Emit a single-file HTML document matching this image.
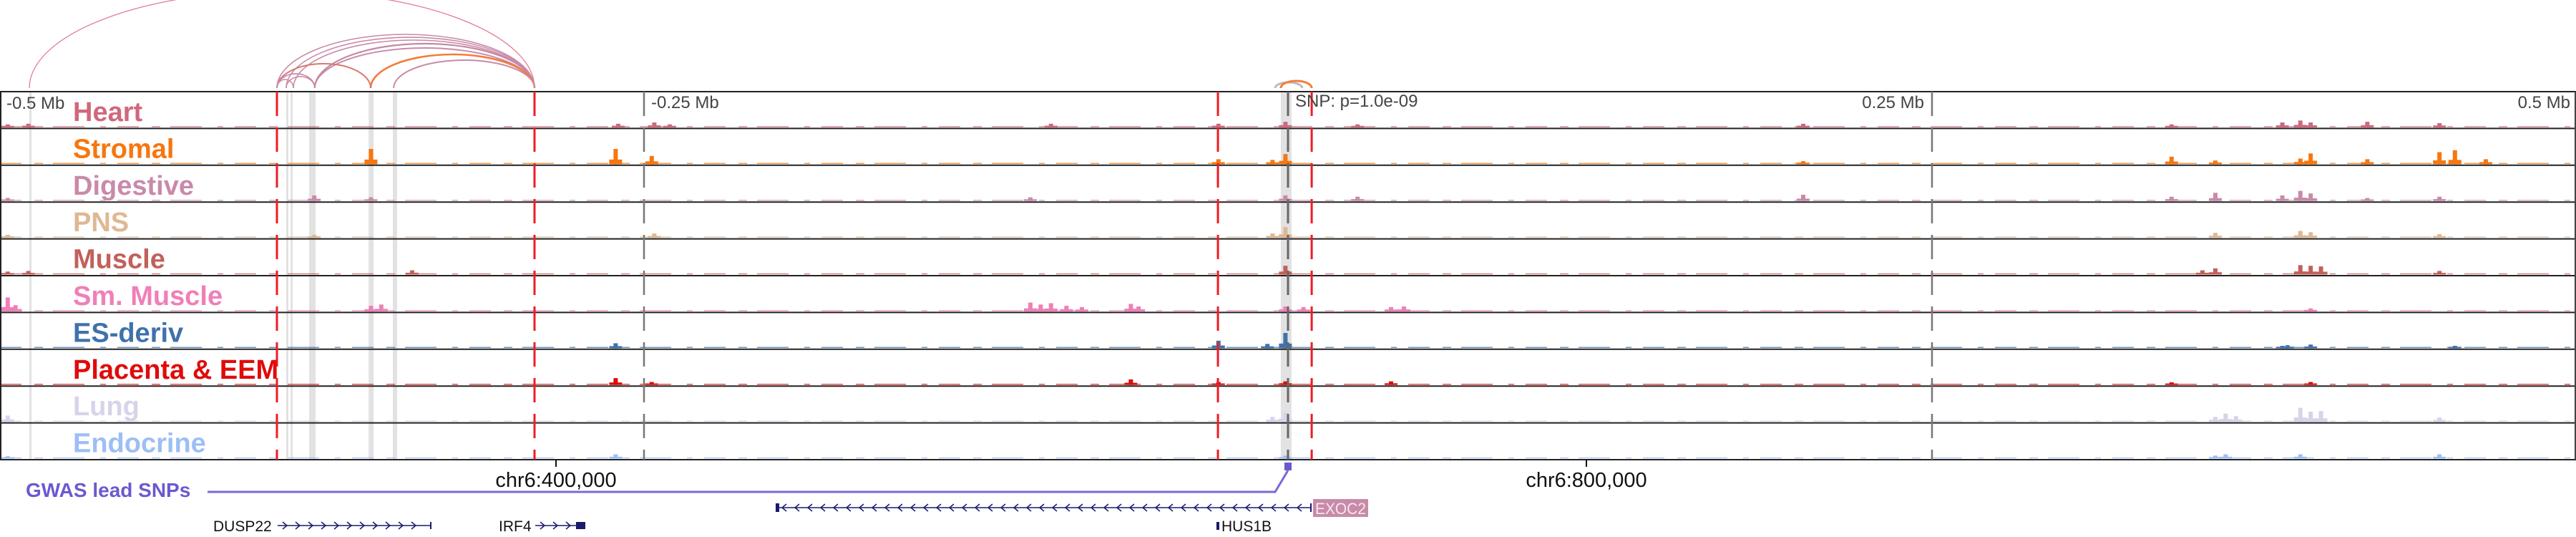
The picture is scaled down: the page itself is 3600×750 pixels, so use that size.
<!DOCTYPE html>
<html><head><meta charset="utf-8">
<style>
html,body{margin:0;padding:0;background:#fff;}
svg{display:block;font-family:"Liberation Sans",sans-serif;}
</style></head>
<body>
<svg id="chart" width="3600" height="750" viewBox="0 0 3600 750" xmlns="http://www.w3.org/2000/svg">
<g id="bands"></g>
<g id="arcs"></g>
<g id="signals"></g>
<g id="borders"></g>
<g id="vlines"></g>
<g id="labels"></g>
<g id="axis"></g>
<g id="genes"></g>
</svg>
<script>
// ---- data ----
const trackNames = ["Heart","Stromal","Digestive","PNS","Muscle","Sm. Muscle","ES-deriv","Placenta & EEM","Lung","Endocrine"];
const trackColors = ["#d0687c","#f7760f","#c98aa9","#dfb893","#c2605a","#f07fb8","#3f72ac","#e00b0b","#d8d3ea","#9dbef5"];
// peaks per track: [kb relative to SNP, signal (0-100)]
const heartPeaks = [[-497,6],[-489,8],[-260,8],[-246,12],[-240,6],[-92,8],[-27,8],[-1,14],[27,6],[200,8],[343,6],[386,12],[393,18],[397,12],[419,14],[447,10]];
const stromalPeaks = [[-356,44],[-261,44],[-247,22],[-27,12],[-1,28],[-6,10],[200,6],[343,20],[360,8],[393,14],[397,30],[419,12],[447,34],[453,40],[465,12]];
const digestivePeaks = [[-497,6],[-378,14],[-356,8],[-100,8],[-1,14],[27,10],[200,16],[343,10],[360,22],[386,14],[393,28],[397,20],[419,6],[447,10]];
const pnsPeaks = [[-497,6],[-378,6],[-246,10],[-1,30],[-6,10],[360,12],[393,18],[397,14],[447,8]];
const musclePeaks = [[-497,6],[-489,8],[-340,10],[-1,24],[360,16],[355,10],[393,26],[397,24],[401,22],[447,8]];
const smMusclePeaks = [[-497,40],[-494,16],[-356,14],[-352,18],[-100,24],[-96,18],[-92,22],[-86,14],[-80,10],[-61,20],[-58,12],[-1,12],[6,10],[40,10],[45,12],[397,6]];
const esPeaks = [[-261,12],[-27,20],[-8,10],[-1,44],[388,6],[397,8],[386,4],[453,4]];
const placentaPeaks = [[-261,18],[-247,6],[-61,14],[-27,6],[-1,8],[40,8],[343,5],[397,6]];
const lungPeaks = [[-497,16],[-1,26],[-6,12],[360,12],[364,22],[368,14],[393,40],[397,28],[401,30],[447,10]];
const endocrinePeaks = [[-497,4],[-261,10],[-1,6],[364,10],[360,6],[393,10],[447,10]];
const allPeaks = [heartPeaks,stromalPeaks,digestivePeaks,pnsPeaks,musclePeaks,smMusclePeaks,esPeaks,placentaPeaks,lungPeaks,endocrinePeaks];
// loops: [startKb, endKb, heightPx, color, width]
const loopStarts = [-488.6,-392.5,-388.9,-386.1,-377.8,-377.8,-356.1,-347.2,-392.5,-392.5,-388.9,-392.5,-5.0,-2.8];
const loopEnds   = [-292.5,-292.5,-292.5,-292.5,-292.5,-292.5,-292.5,-292.5,-356.1,-377.8,-377.8,-386.1,5.5,9.2];
const loopHeights= [136,75,71,67,62,56,47,39,34,20,16,12,8,10];
const loopColors = ["#e27d92","#c98aa9","#c98aa9","#c98aa9","#c48aa5","#c98aa9","#f47c3c","#c98aa9","#d9786e","#c98aa9","#c98aa9","#c98aa9","#bbbbbb","#f47c3c"];
const loopWidths = [1.3,1.6,1.6,1.6,2.2,2,2.6,2,2,1.8,1.6,1.6,3,3];
const mbTicks = [-0.25,0,0.25];
const mbLabels = ["-0.25 Mb","","0.25 Mb"];
const chrTicks = [400000,800000];
const chrLabels = ["chr6:400,000","chr6:800,000"];
const redLinesKb = [-392.5,-292.5,-27.2,9.2];
const bandsKb = [[-488.6,3],[-388.9,3],[-387.2,3],[-380,9],[-356.9,7],[-347.5,6],[-2.8,15]];

// ---- scales ----
const PXKB = 3.6, SNPX = 1800, SNPBP = 684167;
const xKb = kb => SNPX + kb*PXKB;
const xBp = bp => SNPX + (bp-SNPBP)/1000*PXKB;
const TOP = 128, TH = 51.4, NT = 10, BOT = TOP + TH*NT;
const yScale = v => v/100*45;
const NS = "http://www.w3.org/2000/svg";
function mk(tag, attrs, parent){const e=document.createElementNS(NS,tag);for(const k in attrs)e.setAttribute(k,attrs[k]);parent.appendChild(e);return e;}
const G = id => document.getElementById(id);

// bands
bandsKb.forEach(b=>{
  const r = mk("rect",{x:xKb(b[0]),y:TOP,width:b[1],height:BOT-TOP,fill:"#e2e2e2"},G("bands"));
  
  
});

// arcs
loopStarts.forEach((s,i)=>{
  const x1 = xKb(s), x2 = xKb(loopEnds[i]);
  const rx = (x2-x1)/2, ry = loopHeights[i];
  const p = mk("path",{d:`M${x1},123 A${rx},${ry} 0 0 1 ${x2},123`,fill:"none",stroke:loopColors[i],"stroke-width":loopWidths[i]},G("arcs"));
  
  
});

// signals
allPeaks.forEach((peaks,t)=>{
  const g = mk("g",{},G("signals"));
  
  
  const base = TOP + TH*(t+1) - 3;
  const bl = mk("line",{x1:0,x2:3600,y1:base+0.5,y2:base+0.5,stroke:trackColors[t],"stroke-width":1.5,"stroke-dasharray":"30 18 12 14 44 22 8 16","opacity":0.75},g);
  
  
  peaks.forEach(p=>{
    const h = yScale(p[1]);
    const r = mk("rect",{x:xKb(p[0])-3,y:base-h,width:6,height:h+1.5,fill:trackColors[t]},g);
    
    
    const s = mk("rect",{x:xKb(p[0])-9,y:base-h*0.25,width:18,height:h*0.25+1.5,fill:trackColors[t]},g);
    
    
  });
});

// borders
for(let i=0;i<=NT;i++){
  const l = mk("line",{x1:0,x2:3600,y1:TOP+TH*i,y2:TOP+TH*i,stroke:"#222","stroke-width":2},G("borders"));
  
  
}
mk("line",{x1:1,x2:1,y1:TOP,y2:BOT,stroke:"#222","stroke-width":2},G("borders"));
mk("line",{x1:3599,x2:3599,y1:TOP,y2:BOT,stroke:"#444","stroke-width":2},G("borders"));

// vertical markers
redLinesKb.forEach(k=>{
  const l = mk("line",{x1:xKb(k),x2:xKb(k),y1:TOP,y2:BOT,stroke:"#ee1c25","stroke-width":3,"stroke-dasharray":"34 16"},G("vlines"));
  
  
});
mbTicks.forEach((m,i)=>{
  const x = xKb(m*1000);
  const l = mk("line",{x1:x,x2:x,y1:TOP,y2:BOT,stroke:m===0?"#666":"#777","stroke-width":m===0?3:2.5,"stroke-dasharray":"34 16"},G("vlines"));
  
  
  if(mbLabels[i]){
    const t = mk("text",{x:m<0?x+10:x-11,y:151,"font-size":24,fill:"#444","text-anchor":m<0?"start":"end"},G("vlines"));
    t.textContent = mbLabels[i];
    
    
  }
});
</script>
<script>
// static labels
(function(){
const NS="http://www.w3.org/2000/svg";
function mk(tag, attrs, parent){const e=document.createElementNS(NS,tag);for(const k in attrs)e.setAttribute(k,attrs[k]);parent.appendChild(e);return e;}
const L=document.getElementById("labels");
const t0=mk("text",{x:9,y:152,"font-size":24,fill:"#444"},L);t0.textContent="-0.5 Mb";


const t1=mk("text",{x:3592,y:151,"font-size":24,fill:"#444","text-anchor":"end"},L);t1.textContent="0.5 Mb";


const t2=mk("text",{x:1810,y:149,"font-size":24,fill:"#444"},L);t2.textContent="SNP: p=1.0e-09";


trackNames.forEach((n,i)=>{
  const t=mk("text",{x:102,y:TOP+TH*i+41,"font-size":38,"font-weight":"bold",fill:trackColors[i]},L);
  t.textContent=n;
  
  
});
const A=document.getElementById("axis");
chrTicks.forEach((bp,i)=>{
  const x=xBp(bp);
  mk("line",{x1:x,x2:x,y1:BOT,y2:BOT+10,stroke:"#111","stroke-width":2},A);
  const t=mk("text",{x:x,y:680,"font-size":29,fill:"#111","text-anchor":"middle"},A);
  t.textContent=chrLabels[i];
  
  
});
const Gn=document.getElementById("genes");
const gw=mk("text",{x:36,y:694,"font-size":28,"font-weight":"bold",fill:"#6a5acd"},Gn);gw.textContent="GWAS lead SNPs";


const gl=mk("path",{d:"M290,687 L1782,687 L1800,657",fill:"none",stroke:"#7b68d8","stroke-width":3},Gn);


const gs=mk("rect",{x:1795,y:646,width:10,height:11,fill:"#6a5acd"},Gn);


function gene(x1,x2,y,dir){
  mk("line",{x1:x1,x2:x2,y1:y,y2:y,stroke:"#1a1a6e","stroke-width":1.5},Gn);
  for(let x=x1+10;x<x2-6;x+=18){
    const d=dir>0?`M${x-3},${y-5} L${x+3},${y} L${x-3},${y+5}`:`M${x+3},${y-5} L${x-3},${y} L${x+3},${y+5}`;
    mk("path",{d:d,fill:"none",stroke:"#1a1a6e","stroke-width":1.5},Gn);
  }
}
gene(388,602,734,1);
mk("line",{x1:602,x2:602,y1:729,y2:739,stroke:"#1a1a6e","stroke-width":2},Gn);
gene(748,805,734,1);
mk("rect",{x:805,y:729,width:13,height:10,fill:"#1a1a6e"},Gn);
gene(1086,1832,709,-1);
mk("rect",{x:1084,y:703,width:5,height:12,fill:"#1a1a6e"},Gn);
mk("line",{x1:1832,x2:1832,y1:703,y2:715,stroke:"#1a1a6e","stroke-width":2},Gn);
mk("rect",{x:1700,y:729,width:4,height:11,fill:"#1a1a6e"},Gn);
const labs=[["DUSP22",298,742,"#111"],["IRF4",697,742,"#111"],["HUS1B",1707,742,"#111"]];
labs.forEach(l=>{const t=mk("text",{x:l[1],y:l[2],"font-size":21,fill:l[3]},Gn);t.textContent=l[0];
  
  });
const eb=mk("rect",{x:1835,y:697,width:77,height:25,fill:"#c88aa8"},Gn);


const et=mk("text",{x:1838,y:718,"font-size":22,fill:"#f4e8ee",textLength:71,lengthAdjust:"spacingAndGlyphs"},Gn);et.textContent="EXOC2";


})();
</script>
</body></html>
